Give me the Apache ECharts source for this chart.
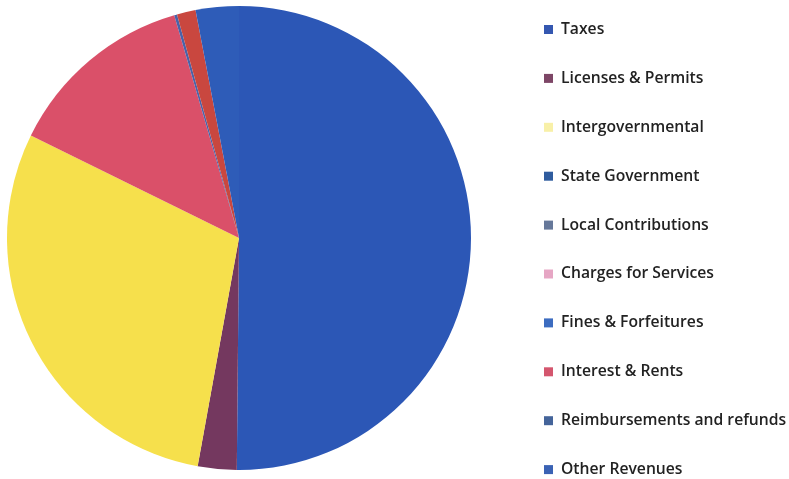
<!DOCTYPE html>
<html>
<head>
<meta charset="utf-8">
<style>
  html, body { margin: 0; padding: 0; background: #ffffff; }
  #chart { width: 789px; height: 479px; }
</style>
<script src="https://cdn.jsdelivr.net/npm/echarts@6/dist/echarts.min.js"></script>
</head>
<body>
<div id="chart"></div>
<script>
// Revenue sources, share of total (%)
const categories = [
  'Taxes',
  'Licenses & Permits',
  'Intergovernmental',
  'State Government',
  'Local Contributions',
  'Charges for Services',
  'Fines & Forfeitures',
  'Interest & Rents',
  'Reimbursements and refunds',
  'Other Revenues'
];
const shares = [50.1, 2.7, 29.4, 0, 0, 13.2, 0.2, 1.3, 0, 3.0];

// Slice fills
const sliceColors = ['#2c57b6', '#74385f', '#f6e04c', '#2f5c9e', '#5c6f92', '#da5069', '#4a62a8', '#c9473f', '#42639a', '#2e5cb8'];
// Legend swatches (small squares, rendered lighter)
const swatchColors = ['#3457b0', '#7d4666', '#f8f0a8', '#2f5c9e', '#66789a', '#e6a6c4', '#3c6cc0', '#d4566e', '#44649a', '#3a62b4'];

const chart = echarts.init(document.getElementById('chart'), null, { renderer: 'canvas' });

chart.setOption({
  backgroundColor: '#ffffff',
  animation: false,
  legend: {
    orient: 'vertical',
    left: 544,
    top: 21.5,
    padding: 0,
    height: 457,
    icon: 'rect',
    itemWidth: 9,
    itemHeight: 9,
    itemGap: 32.9,
    textStyle: {
      fontFamily: '"Open Sans", sans-serif',
      fontSize: 15.7,
      fontWeight: 600,
      color: '#222222',
      lineHeight: 16,
      padding: [0, 0, 0, 3]
    },
    data: categories.map((name, i) => ({ name, itemStyle: { color: swatchColors[i] } }))
  },
  series: [{
    type: 'pie',
    center: [239, 238],
    radius: 232,
    startAngle: 90,
    clockwise: true,
    label: { show: false },
    labelLine: { show: false },
    emphasis: { disabled: true },
    itemStyle: { borderWidth: 0 },
    data: categories.map((name, i) => ({
      name,
      value: shares[i],
      itemStyle: { color: sliceColors[i] }
    }))
  }]
});
</script>
</body>
</html>
